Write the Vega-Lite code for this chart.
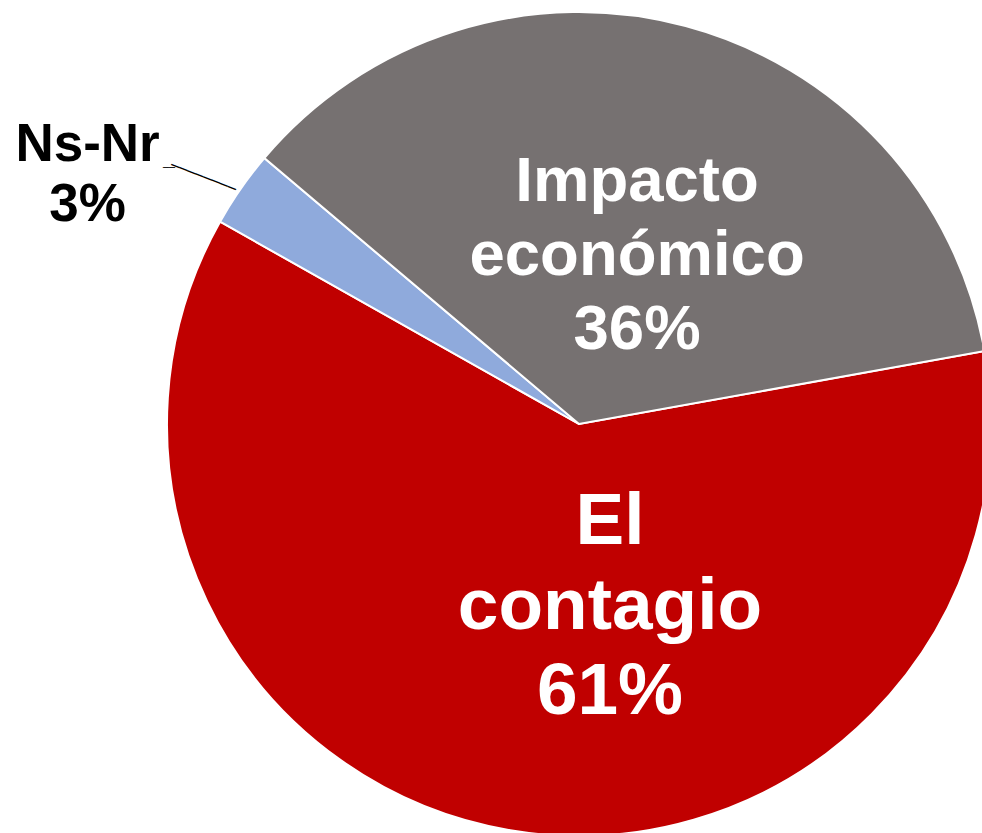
{
  "$schema": "https://vega.github.io/schema/vega-lite/v6.json",
  "width": 1158,
  "height": 848,
  "autosize": "none",
  "padding": 0,
  "background": "white",
  "config": {"view": {"stroke": null}},
  "data": {
    "values": [
      {"category": "El contagio", "value": 61, "order": 1, "label": "El\ncontagio\n61%"},
      {"category": "Ns-Nr", "value": 3, "order": 2, "label": "Ns-Nr\n3%"},
      {"category": "Impacto económico", "value": 36, "order": 3, "label": "Impacto\neconómico\n36%"}
    ]
  },
  "encoding": {
    "theta": {"field": "value", "type": "quantitative", "stack": true, "scale": {"range": [1.393, 7.676]}},
    "order": {"field": "order", "type": "quantitative"}
  },
  "layer": [
    {
      "mark": {"type": "arc", "radius": 412, "stroke": "white", "strokeWidth": 2},
      "encoding": {
        "color": {
          "field": "category", "type": "nominal", "legend": null,
          "scale": {"domain": ["El contagio", "Ns-Nr", "Impacto económico"], "range": ["#C00000", "#8FAADC", "#767171"]}
        }
      }
    },
    {
      "mark": {"type": "text", "radius": 186, "dx": 62, "dy": -85, "font": "Liberation Sans", "fontWeight": "bold", "fontSize": 73, "lineHeight": 85, "lineBreak": "\n", "fill": "white", "align": "center", "baseline": "middle"},
      "encoding": {
        "text": {"condition": {"test": "datum.category === 'El contagio'", "field": "label", "type": "nominal"}, "value": ""}
      }
    },
    {
      "mark": {"type": "text", "radius": 178, "dx": 12, "dy": -70, "font": "Liberation Sans", "fontWeight": "bold", "fontSize": 63.5, "lineHeight": 74, "lineBreak": "\n", "fill": "white", "align": "center", "baseline": "middle"},
      "encoding": {
        "text": {"condition": {"test": "datum.category === 'Impacto económico'", "field": "label", "type": "nominal"}, "value": ""}
      }
    },
    {
      "mark": {"type": "text", "radius": 551, "dx": -39, "dy": 36, "font": "Liberation Sans", "fontWeight": "bold", "fontSize": 53, "lineHeight": 60, "lineBreak": "\n", "fill": "black", "align": "center", "baseline": "middle"},
      "encoding": {
        "text": {"condition": {"test": "datum.category === 'Ns-Nr'", "field": "label", "type": "nominal"}, "value": ""}
      }
    },
    {
      "mark": {"type": "text", "radius": 447, "dx": -5, "dy": 11.5, "angle": 21.3, "font": "DejaVu Sans Mono", "fontSize": 14.4, "fill": "black", "align": "center", "baseline": "middle"},
      "encoding": {
        "text": {"condition": {"test": "datum.category === 'Ns-Nr'", "value": "────────"}, "value": ""}
      }
    },
    {
      "mark": {"type": "text", "radius": 447, "dx": -43, "dy": -1, "font": "DejaVu Sans Mono", "fontSize": 10, "fill": "black", "align": "center", "baseline": "middle"},
      "encoding": {
        "text": {"condition": {"test": "datum.category === 'Ns-Nr'", "value": "──"}, "value": ""}
      }
    }
  ]
}
